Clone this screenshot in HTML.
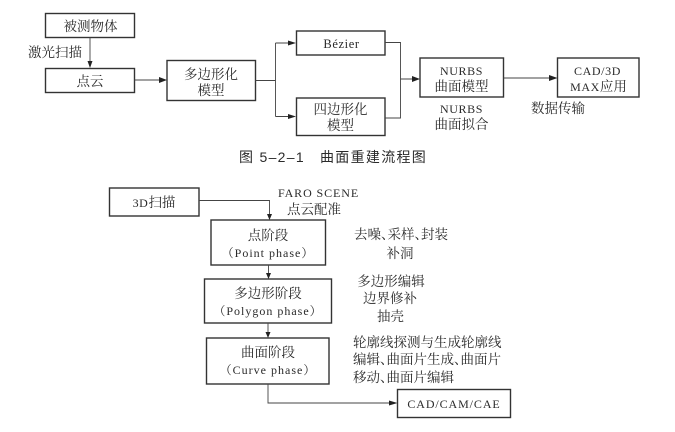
<!DOCTYPE html>
<html><head><meta charset="utf-8"><style>
html,body{margin:0;padding:0;background:#fff;width:675px;height:432px;overflow:hidden}
svg{display:block;filter:blur(.35px)}
text{font-family:"Liberation Serif","Noto Serif CJK SC",serif;font-size:13.5px;fill:#2a2a2a;text-anchor:middle}
.e{font-size:12px;letter-spacing:.6px}
.p{font-size:12px;letter-spacing:1px}
.l{text-anchor:start}
.c{font-family:"Liberation Sans","Noto Sans CJK SC",sans-serif;font-size:14px;letter-spacing:1.3px;text-anchor:start}
rect{fill:#fff;stroke:#333;stroke-width:1.4}
.w{fill:none;stroke:#444;stroke-width:.9}
.a{fill:#222;stroke:none}
</style></head><body>
<svg width="675" height="432" viewBox="0 0 675 432" xmlns="http://www.w3.org/2000/svg">
<rect x="45.5" y="13.5" width="89" height="24"/>
<rect x="45.5" y="68.5" width="89" height="24"/>
<rect x="167" y="60.5" width="88.5" height="40"/>
<rect x="296.5" y="31" width="88.5" height="24"/>
<rect x="296.5" y="98" width="88.5" height="37.5"/>
<rect x="420" y="58" width="83.5" height="39"/>
<rect x="557.5" y="58" width="81.5" height="39"/>
<path class="w" d="M90 37.5V62M134.5 80H160M255.5 80.500H275.500M275.500 43H291M275.500 116.500H291M275.500 43V116.500M385 42.500H400.500V118H385M400.500 79H415M503.500 78H552"/>
<path class="a" d="M87.500 61L92.500 61L90 68ZM159 77L167 80L159 83ZM288 40.500L296 43L288 45.500ZM288 114L296 116.500L288 119ZM412 76L420 79L412 82ZM549 75L557.500 78L549 81Z"/>
<text x="90.500" y="31">被测物体</text>
<text x="55" y="57">激光扫描</text>
<text x="90" y="86">点云</text>
<text x="211" y="79">多边形化</text>
<text x="211" y="95">模型</text>
<text x="341.500" y="48" class="e" style="font-size:12.5px">Bézier</text>
<text x="340.500" y="114">四边形化</text>
<text x="340.500" y="130">模型</text>
<text x="461.500" y="75" class="e">NURBS</text>
<text x="461.500" y="91">曲面模型</text>
<text x="461.500" y="113" class="e">NURBS</text>
<text x="461.500" y="129">曲面拟合</text>
<text x="558" y="113">数据传输</text>
<text x="597.500" y="75" class="e">CAD/3D</text>
<text x="598.500" y="91"><tspan class="e">MAX</tspan>应用</text>
<text x="239" y="162" class="c">图 5–2–1</text>
<text x="320" y="162" class="c">曲面重建流程图</text>

<rect x="109.500" y="188" width="89.500" height="28"/>
<rect x="211" y="220" width="114.500" height="45"/>
<rect x="204.500" y="279" width="127" height="44"/>
<rect x="206.500" y="338" width="122.500" height="46"/>
<rect x="397.500" y="389.500" width="113" height="28"/>
<path class="w" d="M199 200.500H269.500V215M268.500 265V273M268 323V332M268 384V403H391"/>
<path class="a" d="M267 214H272L269.500 220ZM266 273H271L268.500 279ZM265.500 332H270.500L268 338ZM389 400.500L397.500 403L389 405.500Z"/>
<text x="154" y="207"><tspan class="e">3D</tspan>扫描</text>
<text x="318.500" y="197" class="e" style="letter-spacing:.9px">FARO SCENE</text>
<text x="314" y="214">点云配准</text>
<text x="268" y="240">点阶段</text>
<text x="268" y="257" class="p">（Point phase）</text>
<text x="268" y="298">多边形阶段</text>
<text x="268" y="315" class="p">（Polygon phase）</text>
<text x="268" y="357">曲面阶段</text>
<text x="268" y="374" class="p">（Curve phase）</text>
<text x="454" y="408" class="e" style="letter-spacing:.9px">CAD/CAM/CAE</text>
<text x="354" y="239" class="l">去噪、<tspan dx="-7">采样、</tspan><tspan dx="-7">封装</tspan></text>
<text x="400" y="258">补洞</text>
<text x="391" y="286">多边形编辑</text>
<text x="390" y="303">边界修补</text>
<text x="390.500" y="321">抽壳</text>
<text x="353" y="347" class="l">轮廓线探测与生成轮廓线</text>
<text x="353" y="364" class="l">编辑、<tspan dx="-7">曲面片生成、</tspan><tspan dx="-7">曲面片</tspan></text>
<text x="353" y="382" class="l">移动、<tspan dx="-7">曲面片编辑</tspan></text>
</svg>
</body></html>
